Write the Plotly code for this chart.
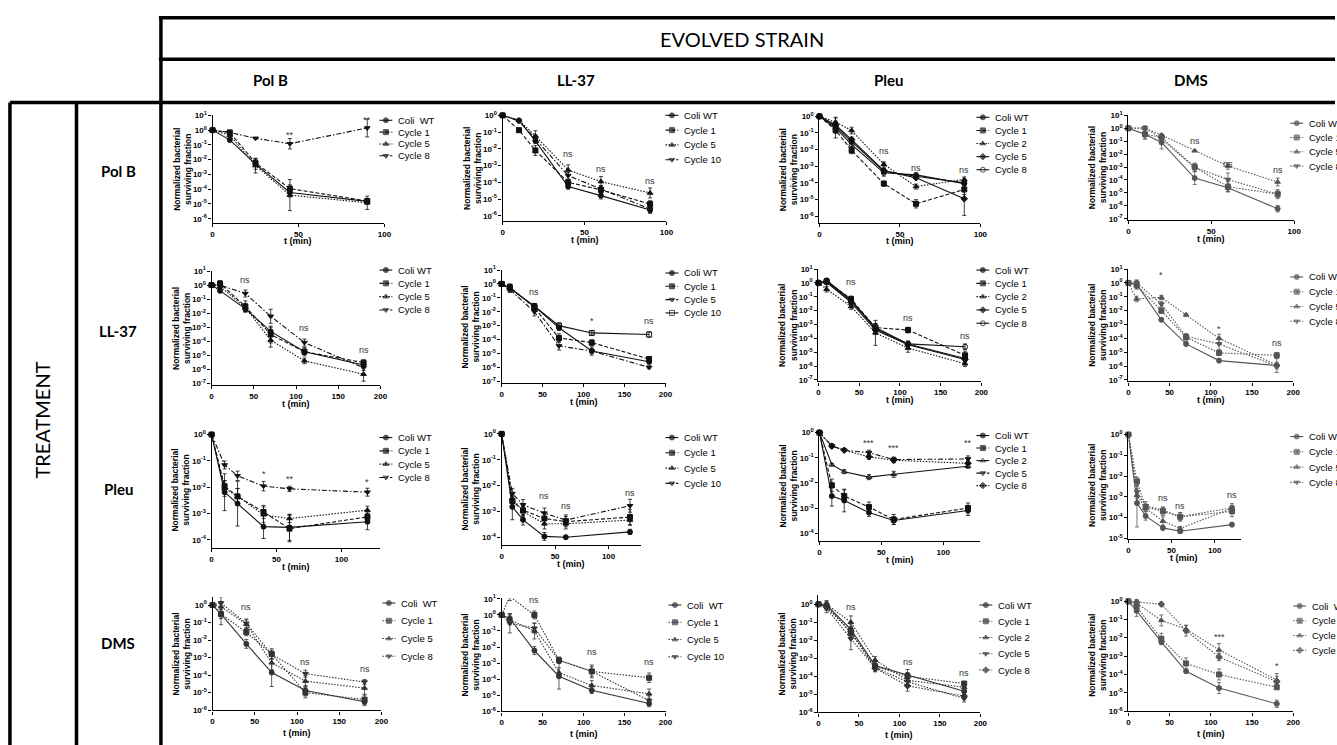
import plotly.graph_objects as go

W, H = 1337, 745

EVOLVED = ["Pol B", "LL-37", "Pleu", "DMS"]
TREATMENT = ["Pol B", "LL-37", "Pleu", "DMS"]
SUPER_TITLE = "EVOLVED STRAIN"
SIDE_TITLE = "TREATMENT"

# ================= DATA =================
# errors are log10 half-widths of the error bars
# --- Treatment Pol B ---
pb_pb_t = [0, 10, 25, 45, 90]
pb_pb_names = ["Coli  WT", "Cycle 1", "Cycle 5", "Cycle 8"]
pb_pb_wt = [1, 0.22, 0.005, 6e-5, 1.5e-5]
pb_pb_c1 = [1, 0.7, 0.006, 1.1e-4, 1.6e-5]
pb_pb_c5 = [1, 0.45, 0.004, 4e-5, 1.2e-5]
pb_pb_c8 = [1, 0.7, 0.28, 0.12, 1.4]
pb_pb_err = [[0, 0.15, 0.35, 0.3, 0.2], [0, 0.1, 0.25, 0.25, 0.15],
             [0, 0.2, 0.5, 1.05, 0.45], [0, 0.1, 0.05, 0.35, 0.6]]
pb_pb_sig_t = [45, 90]
pb_pb_sig_y = [-0.3, 0.72]
pb_pb_sig = ["**", "**"]

pb_ll_t = [0, 10, 20, 40, 60, 90]
pb_ll_names = ["Coli WT", "Cycle 1", "Cycle 5", "Cycle 10"]
pb_ll_wt = [1, 0.5, 0.03, 5.6e-5, 1.6e-5, 2.2e-6]
pb_ll_c1 = [1, 0.13, 0.008, 1e-4, 3.5e-5, 5e-6]
pb_ll_c5 = [1, 0.5, 0.06, 5.5e-4, 1.1e-4, 2.3e-5]
pb_ll_c10 = [1, 0.45, 0.04, 2.5e-4, 4e-5, 2.5e-6]
pb_ll_err = [[0, 0.1, 0.15, 0.15, 0.2, 0.2], [0, 0.1, 0.3, 0.15, 0.25, 0.2],
             [0, 0.1, 0.3, 0.3, 0.3, 0.3], [0, 0.1, 0.2, 0.2, 0.2, 0.2]]
pb_ll_sig_t = [40, 60, 90]
pb_ll_sig_y = [-2.3, -3.2, -3.9]
pb_ll_sig = ["ns", "ns", "ns"]

pb_pl_t = [0, 10, 20, 40, 60, 90]
pb_pl_names = ["Coli WT", "Cycle 1", "Cycle 2", "Cycle 5", "Cycle 8"]
pb_pl_wt = [1, 0.25, 0.03, 5e-4, 2.5e-4, 1e-4]
pb_pl_c1 = [1, 0.15, 0.009, 9e-5, 5.5e-6, 4e-5]
pb_pl_c2 = [1, 0.45, 0.14, 1.3e-3, 6e-5, 1.6e-4]
pb_pl_c5 = [1, 0.3, 0.04, 5.5e-4, 2e-4, 1.1e-5]
pb_pl_c8 = [1, 0.2, 0.02, 4e-4, 3e-4, 9e-5]
pb_pl_err = [[0, 0.15, 0.15, 0.15, 0.1, 0.1], [0, 0.2, 0.2, 0.15, 0.25, 0.3],
             [0, 0.3, 0.2, 0.15, 0.15, 0.15], [0, 0.15, 0.15, 0.15, 0.1, 1.0],
             [0, 0.6, 0.2, 0.2, 0.1, 0.15]]
pb_pl_sig_t = [40, 60, 90]
pb_pl_sig_y = [-2.06, -3.08, -3.2]
pb_pl_sig = ["ns", "ns", "ns"]

pb_dm_t = [0, 10, 20, 40, 60, 90]
pb_dm_names = ["Coli WT", "Cycle 1", "Cycle 5", "Cycle 8"]
pb_dm_wt = [1, 0.35, 0.08, 1.4e-4, 2.5e-5, 6e-7]
pb_dm_c1 = [1, 0.35, 0.2, 1e-3, 3e-5, 8e-6]
pb_dm_c5 = [1, 1.0, 0.3, 1.8e-2, 1.2e-3, 7e-5]
pb_dm_c8 = [1, 1.1, 0.15, 9e-4, 1.1e-4, 8e-6]
pb_dm_err = [[0, 0.3, 0.5, 0.5, 0.3, 0.25], [0, 0.4, 0.2, 0.3, 0.4, 0.25],
             [0, 0.1, 0.1, 0.05, 0.25, 0.3], [0, 0.15, 0.3, 0.3, 0.5, 0.35]]
pb_dm_sig_t = [40, 60, 90]
pb_dm_sig_y = [-0.96, -2.8, -3.26]
pb_dm_sig = ["ns", "ns", "ns"]

# --- Treatment LL-37 ---
ll_pb_t = [0, 10, 40, 70, 110, 180]
ll_pb_names = ["Coli WT", "Cycle 1", "Cycle 5", "Cycle 8"]
ll_pb_wt = [1, 0.4, 0.02, 5e-4, 1.8e-5, 2e-6]
ll_pb_c1 = [1, 1.3, 0.03, 3e-4, 1.8e-5, 3e-6]
ll_pb_c5 = [1, 0.8, 0.025, 1.2e-4, 4e-6, 4.5e-7]
ll_pb_c8 = [1, 1.0, 0.25, 6e-3, 8e-5, 1.3e-6]
ll_pb_err = [[0, 0.15, 0.2, 0.3, 0.2, 0.2], [0, 0.2, 0.4, 0.6, 0.3, 0.2],
             [0, 0.2, 0.3, 0.5, 0.2, 0.5], [0, 0.2, 0.25, 0.5, 0.25, 0.2]]
ll_pb_sig_t = [40, 110, 180]
ll_pb_sig_y = [0.35, -3.05, -4.6]
ll_pb_sig = ["ns", "ns", "ns"]

ll_ll_t = [0, 10, 40, 70, 110, 180]
ll_ll_names = ["Coli WT", "Cycle 1", "Cycle 5", "Cycle 10"]
ll_ll_wt = [1, 0.5, 0.025, 7e-4, 1.5e-5, 2.5e-6]
ll_ll_c1 = [1, 0.6, 0.02, 1.3e-4, 6e-5, 4e-6]
ll_ll_c5 = [1, 0.4, 0.01, 3.5e-5, 1.5e-5, 1e-6]
ll_ll_c10 = [1, 0.5, 0.025, 1e-3, 3e-4, 2.3e-4]
ll_ll_err = [[0, 0.3, 0.2, 0.2, 0.2, 0.15], [0, 0.2, 0.2, 0.3, 0.2, 0.15],
             [0, 0.2, 0.3, 0.3, 0.3, 0.1], [0, 0.2, 0.2, 0.2, 0.15, 0.2]]
ll_ll_sig_t = [40, 110, 180]
ll_ll_sig_y = [-0.55, -2.7, -2.7]
ll_ll_sig = ["ns", "*", "ns"]

ll_pl_t = [0, 10, 40, 70, 110, 180]
ll_pl_names = ["Coli WT", "Cycle 1", "Cycle 2", "Cycle 5", "Cycle 8"]
ll_pl_wt = [1, 1.5, 0.06, 5e-4, 4e-5, 3.5e-6]
ll_pl_c1 = [1, 1.3, 0.07, 6e-4, 4e-4, 6e-6]
ll_pl_c2 = [1, 0.35, 0.02, 2.5e-4, 2e-5, 1.5e-6]
ll_pl_c5 = [1, 1.1, 0.04, 4e-4, 3.5e-5, 3e-6]
ll_pl_c8 = [1, 1.2, 0.05, 6e-4, 4e-5, 2.5e-5]
ll_pl_err = [[0, 0.15, 0.2, 0.3, 0.2, 0.2], [0, 0.15, 0.2, 0.3, 0.2, 0.3],
             [0, 0.2, 0.2, 0.9, 0.3, 0.2], [0, 0.15, 0.2, 0.3, 0.2, 0.2],
             [0, 0.15, 0.2, 0.3, 0.2, 0.2]]
ll_pl_sig_t = [40, 110, 180]
ll_pl_sig_y = [0.1, -2.5, -3.8]
ll_pl_sig = ["ns", "ns", "ns"]

ll_dm_t = [0, 10, 40, 70, 110, 180]
ll_dm_names = ["Coli WT", "Cycle 1", "Cycle 5", "Cycle 8"]
ll_dm_wt = [1, 0.8, 2.2e-3, 4e-5, 2.5e-6, 1.1e-6]
ll_dm_c1 = [1, 0.7, 1e-2, 1.2e-4, 9e-6, 6e-6]
ll_dm_c5 = [1, 0.07, 0.09, 5e-3, 1e-4, 1.2e-6]
ll_dm_c8 = [1, 1.0, 0.03, 1.4e-4, 4e-5, 1e-6]
ll_dm_err = [[0, 0.3, 0.1, 0.15, 0.15, 0.5], [0, 0.3, 0.2, 0.2, 0.15, 0.2],
             [0, 0.2, 0.15, 0.1, 0.3, 0.2], [0, 0.2, 0.2, 0.2, 0.4, 0.2]]
ll_dm_sig_t = [40, 110, 180]
ll_dm_sig_y = [0.6, -3.3, -4.3]
ll_dm_sig = ["*", "*", "ns"]

# --- Treatment Pleu ---
pl_pb_t = [0, 10, 20, 40, 60, 120]
pl_pb_names = ["Coli WT", "Cycle 1", "Cycle 5", "Cycle 8"]
pl_pb_wt = [1, 6.5e-3, 2.4e-3, 3.2e-4, 3e-4, 4.9e-4]
pl_pb_c1 = [1, 0.011, 4.5e-3, 1.15e-3, 2.7e-4, 7.5e-4]
pl_pb_c5 = [1, 9e-3, 4.5e-3, 9e-4, 6.5e-4, 1.35e-3]
pl_pb_c8 = [1, 0.07, 0.027, 0.011, 8.7e-3, 6.5e-3]
pl_pb_err = [[0, 0.7, 0.85, 0.45, 0.5, 0.3], [0, 0.2, 0.3, 0.25, 0.5, 0.15],
             [0, 0.3, 0.3, 0.3, 0.15, 0.15], [0, 0.15, 0.18, 0.18, 0.1, 0.15]]
pl_pb_sig_t = [40, 60, 120]
pl_pb_sig_y = [-1.5, -1.69, -1.81]
pl_pb_sig = ["*", "**", "*"]

pl_ll_t = [0, 10, 20, 40, 60, 120]
pl_ll_names = ["Coli WT", "Cycle 1", "Cycle 5", "Cycle 10"]
pl_ll_wt = [1, 1.5e-3, 4.7e-4, 1.07e-4, 1e-4, 1.6e-4]
pl_ll_c1 = [1, 2.5e-3, 1.1e-3, 5.3e-4, 4e-4, 6e-4]
pl_ll_c5 = [1, 3.2e-3, 9.8e-4, 3.3e-4, 3.3e-4, 4.6e-4]
pl_ll_c10 = [1, 4.9e-3, 1.8e-3, 8.5e-4, 4.6e-4, 1.65e-3]
pl_ll_err = [[0, 0.5, 0.2, 0.15, 0.05, 0.1], [0, 0.2, 0.2, 0.25, 0.2, 0.3],
             [0, 0.2, 0.2, 0.2, 0.2, 0.2], [0, 0.2, 0.2, 0.2, 0.2, 0.25]]
pl_ll_sig_t = [40, 60, 120]
pl_ll_sig_y = [-2.4, -2.78, -2.3]
pl_ll_sig = ["ns", "ns", "ns"]

pl_pl_t = [0, 10, 20, 40, 60, 120]
pl_pl_names = ["Coli WT", "Cycle 1", "Cycle 2", "Cycle 5", "Cycle 8"]
pl_pl_wt = [1, 3e-3, 2e-3, 6.6e-4, 3.2e-4, 8e-4]
pl_pl_c1 = [1, 8e-3, 3e-3, 1.1e-3, 3.5e-4, 1e-3]
pl_pl_c2 = [1, 0.053, 0.028, 0.017, 0.022, 0.046]
pl_pl_c5 = [1, 0.3, 0.2, 0.16, 0.085, 0.09]
pl_pl_c8 = [1, 0.29, 0.2, 0.11, 0.08, 0.06]
pl_pl_err = [[0, 0.4, 0.45, 0.15, 0.15, 0.2], [0, 0.25, 0.25, 0.2, 0.2, 0.2],
             [0, 0.05, 0.08, 0.1, 0.12, 0.08], [0, 0.08, 0.05, 0.1, 0.1, 0.12],
             [0, 0.05, 0.05, 0.1, 0.1, 0.1]]
pl_pl_sig_t = [40, 60, 120]
pl_pl_sig_y = [-0.4, -0.62, -0.43]
pl_pl_sig = ["***", "***", "**"]

pl_dm_t = [0, 10, 20, 40, 60, 120]
pl_dm_names = ["Coli WT", "Cycle 1", "Cycle 5", "Cycle 8"]
pl_dm_wt = [1, 5e-4, 1.2e-4, 3.2e-5, 2.2e-5, 4.6e-5]
pl_dm_c1 = [1, 5.5e-3, 3.2e-4, 2e-4, 1.1e-4, 2e-4]
pl_dm_c5 = [1, 1.2e-3, 2.8e-4, 6.8e-5, 3e-5, 2.8e-4]
pl_dm_c8 = [1, 1.7e-3, 3.7e-4, 2.3e-4, 1.1e-4, 3e-4]
pl_dm_err = [[0, 1.15, 0.2, 0.1, 0.1, 0.1], [0, 0.2, 0.15, 0.2, 0.2, 0.25],
             [0, 0.3, 0.15, 0.2, 0.1, 0.15], [0, 0.3, 0.2, 0.15, 0.2, 0.2]]
pl_dm_sig_t = [40, 60, 120]
pl_dm_sig_y = [-3.07, -3.45, -2.9]
pl_dm_sig = ["ns", "ns", "ns"]

# --- Treatment DMS ---
dm_pb_t = [0, 10, 40, 70, 110, 180]
dm_pb_names = ["Coli  WT", "Cycle 1", "Cycle 5", "Cycle 8"]
dm_pb_wt = [1, 0.3, 6e-3, 1.4e-4, 1.3e-5, 3e-6]
dm_pb_c1 = [1, 0.3, 0.028, 1.6e-3, 1e-5, 4e-6]
dm_pb_c5 = [1, 0.8, 0.08, 5e-4, 4.5e-5, 1.8e-5]
dm_pb_c8 = [1, 1.3, 0.09, 1.5e-3, 1.2e-4, 4e-5]
dm_pb_err = [[0, 0.25, 0.25, 0.8, 0.3, 0.2], [0, 0.6, 0.2, 0.3, 0.3, 0.3],
             [0, 0.3, 0.25, 0.4, 0.3, 0.4], [0, 0.35, 0.25, 0.25, 0.2, 0.15]]
dm_pb_sig_t = [40, 110, 180]
dm_pb_sig_y = [-0.1, -3.23, -3.64]
dm_pb_sig = ["ns", "ns", "ns"]

dm_ll_t = [0, 10, 40, 70, 110, 180]
dm_ll_names = ["Coli  WT", "Cycle 1", "Cycle 5", "Cycle 10"]
dm_ll_wt = [1, 0.6, 6e-3, 1.5e-4, 2e-5, 3e-6]
dm_ll_c1 = [1, 14, 1.0, 1.5e-3, 3e-4, 1.2e-4]
dm_ll_c5 = [1, 0.5, 0.1, 2.5e-4, 4e-5, 1.2e-5]
dm_ll_c10 = [1, 0.3, 0.15, 1.5e-3, 3e-4, 4.5e-6]
dm_ll_err = [[0, 0.3, 0.25, 0.8, 0.2, 0.2], [0, 0.25, 0.25, 0.15, 0.4, 0.3],
             [0, 0.3, 0.5, 0.3, 0.3, 0.3], [0, 0.6, 0.3, 0.2, 0.3, 0.3]]
dm_ll_sig_t = [40, 110, 180]
dm_ll_sig_y = [0.94, -2.3, -2.93]
dm_ll_sig = ["ns", "ns", "ns"]

dm_pl_t = [0, 10, 40, 70, 110, 180]
dm_pl_names = ["Coli WT", "Cycle 1", "Cycle 2", "Cycle 5", "Cycle 8"]
dm_pl_wt = [1, 0.9, 0.04, 4e-4, 1.2e-4, 1.5e-5]
dm_pl_c1 = [1, 0.8, 0.025, 3.5e-4, 1e-4, 4e-5]
dm_pl_c2 = [1, 1.0, 0.1, 8e-4, 6e-5, 2.5e-5]
dm_pl_c5 = [1, 0.6, 0.012, 3e-4, 5e-5, 6e-6]
dm_pl_c8 = [1, 0.7, 0.03, 2.8e-4, 3e-5, 8e-6]
dm_pl_err = [[0, 0.2, 0.3, 0.2, 0.3, 0.15], [0, 0.2, 0.3, 0.2, 0.2, 0.1],
             [0, 0.2, 0.35, 0.2, 0.3, 0.2], [0, 0.25, 0.6, 0.2, 0.2, 0.2],
             [0, 0.2, 0.3, 0.2, 0.3, 0.2]]
dm_pl_sig_t = [40, 110, 180]
dm_pl_sig_y = [-0.15, -3.2, -3.84]
dm_pl_sig = ["ns", "ns", "ns"]

dm_dm_t = [0, 10, 40, 70, 110, 180]
dm_dm_names = ["Coli  WT", "Cycle 1", "Cycle 5", "Cycle 8"]
dm_dm_wt = [1, 0.3, 6e-3, 1.5e-4, 1.8e-5, 2.5e-6]
dm_dm_c1 = [1, 0.5, 9e-3, 4e-4, 1e-4, 2e-5]
dm_dm_c5 = [1, 0.8, 0.09, 0.03, 2.2e-3, 5e-5]
dm_dm_c8 = [1, 0.9, 0.7, 0.025, 9e-4, 4e-5]
dm_dm_err = [[0, 0.3, 0.15, 0.1, 0.3, 0.2], [0, 0.3, 0.3, 0.3, 0.3, 0.1],
             [0, 0.2, 0.3, 0.2, 0.35, 0.35], [0, 0.2, 0.1, 0.3, 0.2, 0.3]]
dm_dm_sig_t = [40, 110, 180]
dm_dm_sig_y = [0.23, -1.97, -3.53]
dm_dm_sig = ["**", "***", "*"]

# ================= STYLES =================
BLACK, DARK, GREY = "#111111", "#333333", "#555555"
DASH = {"solid": "solid", "dash": "4px,2px", "dot": "1.5px,1.5px", "dashdot": "5px,2px,1.5px,2px"}
ST_4 = (["circle", "square", "triangle-up", "triangle-down"], ["solid", "dash", "dot", "dashdot"])
ST_LL2 = (["circle", "square", "triangle-down", "square-open"], ["solid", "dash", "dashdot", "solid"])
ST_PL = (["circle", "square", "triangle-up", "diamond", "circle-open"], ["solid", "dash", "dot", "solid", "solid"])
ST_PL3 = (["circle", "square", "triangle-up-open", "triangle-down", "diamond"], ["solid", "dash", "solid", "dashdot", "dot"])
ST_GREY4 = (["circle", "square", "triangle-up", "triangle-down"], ["solid", "dot", "dot", "dot"])
ST_GREY4D = (["circle", "square", "triangle-up", "diamond"], ["solid", "dot", "dot", "dot"])
ST_GREY5 = (["circle", "square", "triangle-up", "triangle-down", "diamond"], ["solid", "dot", "dot", "dot", "dot"])

# legend line start per column (page px)
LEGX = [380, 668, 981, 1297]

# panel geometry in page pixels: x of t=0, x of axis end, axis max, y top px, y bottom px, log range
# legend: y of first entry, spacing
P = [
    # row Pol B
    dict(t=pb_pb_t, names=pb_pb_names, ys=[pb_pb_wt, pb_pb_c1, pb_pb_c5, pb_pb_c8], err=pb_pb_err,
         st=ST_4, col=BLACK, sig=(pb_pb_sig_t, pb_pb_sig_y, pb_pb_sig),
         g=(212, 385, 100, 111, 220, -6.27, 1.0), lg=(116, 12)),
    dict(t=pb_ll_t, names=pb_ll_names, ys=[pb_ll_wt, pb_ll_c1, pb_ll_c5, pb_ll_c10], err=pb_ll_err,
         st=ST_4, col=BLACK, sig=(pb_ll_sig_t, pb_ll_sig_y, pb_ll_sig),
         g=(504, 669, 100, 111, 218, -6.3, 0.0), lg=(111, 15)),
    dict(t=pb_pl_t, names=pb_pl_names, ys=[pb_pl_wt, pb_pl_c1, pb_pl_c2, pb_pl_c5, pb_pl_c8], err=pb_pl_err,
         st=ST_PL, col=BLACK, sig=(pb_pl_sig_t, pb_pl_sig_y, pb_pl_sig),
         g=(823, 985, 100, 112, 220, -6.4, 0.0), lg=(113, 13.3)),
    dict(t=pb_dm_t, names=pb_dm_names, ys=[pb_dm_wt, pb_dm_c1, pb_dm_c5, pb_dm_c8], err=pb_dm_err,
         st=ST_GREY4, col=GREY, sig=(pb_dm_sig_t, pb_dm_sig_y, pb_dm_sig),
         g=(1134, 1301, 100, 111, 217, -7.08, 1.0), lg=(119, 14.5)),
    # row LL-37
    dict(t=ll_pb_t, names=ll_pb_names, ys=[ll_pb_wt, ll_pb_c1, ll_pb_c5, ll_pb_c8], err=ll_pb_err,
         st=ST_4, col=BLACK, sig=(ll_pb_sig_t, ll_pb_sig_y, ll_pb_sig),
         g=(211, 381, 200, 269, 385, -7.14, 1.0), lg=(268, 13.5)),
    dict(t=ll_ll_t, names=ll_ll_names, ys=[ll_ll_wt, ll_ll_c1, ll_ll_c5, ll_ll_c10], err=ll_ll_err,
         st=ST_LL2, col=BLACK, sig=(ll_ll_sig_t, ll_ll_sig_y, ll_ll_sig),
         g=(503, 668, 200, 268, 383, -7.15, 1.0), lg=(271, 13.5)),
    dict(t=ll_pl_t, names=ll_pl_names, ys=[ll_pl_wt, ll_pl_c1, ll_pl_c2, ll_pl_c5, ll_pl_c8], err=ll_pl_err,
         st=ST_PL, col=BLACK, sig=(ll_pl_sig_t, ll_pl_sig_y, ll_pl_sig),
         g=(822, 986, 200, 267, 381, -7.1, 1.0), lg=(268, 13.5)),
    dict(t=ll_dm_t, names=ll_dm_names, ys=[ll_dm_wt, ll_dm_c1, ll_dm_c5, ll_dm_c8], err=ll_dm_err,
         st=ST_GREY4, col=GREY, sig=(ll_dm_sig_t, ll_dm_sig_y, ll_dm_sig),
         g=(1134, 1300, 200, 267, 381, -7.1, 1.0), lg=(275, 15)),
    # row Pleu
    dict(t=pl_pb_t, names=pl_pb_names, ys=[pl_pb_wt, pl_pb_c1, pl_pb_c5, pl_pb_c8], err=pl_pb_err,
         st=ST_4, col=BLACK, sig=(pl_pb_sig_t, pl_pb_sig_y, pl_pb_sig),
         g=(211, 381, 130, 432, 550, -4.3, 0.11), lg=(438, 13.5)),
    dict(t=pl_ll_t, names=pl_ll_names, ys=[pl_ll_wt, pl_ll_c1, pl_ll_c5, pl_ll_c10], err=pl_ll_err,
         st=ST_4, col=BLACK, sig=(pl_ll_sig_t, pl_ll_sig_y, pl_ll_sig),
         g=(503, 643, 130, 433, 547, -4.3, 0.05), lg=(438, 15.5)),
    dict(t=pl_pl_t, names=pl_pl_names, ys=[pl_pl_wt, pl_pl_c1, pl_pl_c2, pl_pl_c5, pl_pl_c8], err=pl_pl_err,
         st=ST_PL3, col=BLACK, sig=(pl_pl_sig_t, pl_pl_sig_y, pl_pl_sig),
         g=(823, 985, 130, 431, 543, -4.31, 0.08), lg=(436, 12.7)),
    dict(t=pl_dm_t, names=pl_dm_names, ys=[pl_dm_wt, pl_dm_c1, pl_dm_c5, pl_dm_c8], err=pl_dm_err,
         st=ST_GREY4, col=GREY, sig=(pl_dm_sig_t, pl_dm_sig_y, pl_dm_sig),
         g=(1134, 1247, 130, 432, 541, -5.03, 0.14), lg=(437, 15.5)),
    # row DMS
    dict(t=dm_pb_t, names=dm_pb_names, ys=[dm_pb_wt, dm_pb_c1, dm_pb_c5, dm_pb_c8], err=dm_pb_err,
         st=ST_GREY4, col=DARK, sig=(dm_pb_sig_t, dm_pb_sig_y, dm_pb_sig),
         g=(212, 382, 200, 600, 715, -6.02, 0.45), lg=(606, 18)),
    dict(t=dm_ll_t, names=dm_ll_names, ys=[dm_ll_wt, dm_ll_c1, dm_ll_c5, dm_ll_c10], err=dm_ll_err,
         st=ST_GREY4, col=DARK, sig=(dm_ll_sig_t, dm_ll_sig_y, dm_ll_sig),
         g=(503, 668, 200, 601, 716, -6.02, 1.05), lg=(608, 17.5)),
    dict(t=dm_pl_t, names=dm_pl_names, ys=[dm_pl_wt, dm_pl_c1, dm_pl_c2, dm_pl_c5, dm_pl_c8], err=dm_pl_err,
         st=ST_GREY5, col=DARK, sig=(dm_pl_sig_t, dm_pl_sig_y, dm_pl_sig),
         g=(822, 985, 200, 598, 717, -6.0, 0.5), lg=(608, 16.5)),
    dict(t=dm_dm_t, names=dm_dm_names, ys=[dm_dm_wt, dm_dm_c1, dm_dm_c5, dm_dm_c8], err=dm_dm_err,
         st=ST_GREY4D, col=GREY, sig=(dm_dm_sig_t, dm_dm_sig_y, dm_dm_sig),
         g=(1134, 1300, 200, 602, 716, -6.02, 0.12), lg=(609, 15)),
]

FONT = "Liberation Sans, Arial, sans-serif"
HFONT = "Lato, Open Sans, sans-serif"


def px(x):
    return x / W


def py(y):
    return 1 - y / H


fig = go.Figure()
annotations = []
shapes = []
layout = {}
LEG = 17  # overlay axis index for legends


def note(x, y, text, size, **kw):
    d = dict(x=px(x), y=py(y), xref="paper", yref="paper", text=text, showarrow=False,
             xanchor="center", yanchor="middle",
             font=dict(family=kw.pop("family", FONT), size=size, color="black",
                       weight=kw.pop("weight", "normal")))
    d.update(kw)
    annotations.append(d)


for k, p in enumerate(P, start=1):
    xl, xr, xmax, yt, yb, ymin, ymax = p["g"]
    row = (k - 1) // 4
    colidx = (k - 1) % 4
    xa = "x" if k == 1 else f"x{k}"
    ya = "y" if k == 1 else f"y{k}"
    xkey = "xaxis" if k == 1 else f"xaxis{k}"
    ykey = "yaxis" if k == 1 else f"yaxis{k}"
    syms, dashes = p["st"]
    col = p["col"]
    for i, (yv, ev) in enumerate(zip(p["ys"], p["err"])):
        plus = [v * (10 ** e - 1) for v, e in zip(yv, ev)]
        minus = [v * (1 - 10 ** (-e)) for v, e in zip(yv, ev)]
        fig.add_trace(go.Scatter(
            x=p["t"], y=yv, xaxis=xa, yaxis=ya, mode="lines+markers",
            name=p["names"][i], showlegend=False, cliponaxis=False,
            line=dict(color=col, width=1.1, dash=DASH[dashes[i]]),
            marker=dict(symbol=syms[i], size=5, color=col, line=dict(width=1, color=col)),
            error_y=dict(type="data", array=plus, arrayminus=minus, color=col,
                         thickness=0.8, width=2),
        ))
    dec = list(range(int(-(-ymin // 1)), int(ymax // 1) + 1))
    layout[xkey] = dict(
        domain=[px(xl), px(xr)], range=[0, xmax], anchor=ya,
        tickvals=[v for v in (0, 50, 100, 150, 200) if v <= xmax],
        showline=True, linecolor="black", linewidth=1.3, ticks="outside",
        ticklen=3, tickwidth=1, tickcolor="black", showgrid=False, zeroline=False,
        tickfont=dict(family=FONT, size=8, color="black", weight="bold"), fixedrange=True,
    )
    layout[ykey] = dict(
        domain=[py(yb), py(yt)], type="log", range=[ymin, ymax], anchor=xa,
        tickvals=[10 ** d for d in dec],
        ticktext=["10<sup>%d</sup>" % d for d in dec],
        showline=True, linecolor="black", linewidth=1.3, ticks="outside",
        ticklen=3, tickwidth=1, tickcolor="black", showgrid=False, zeroline=False,
        tickfont=dict(family=FONT, size=8, color="black", weight="bold"), fixedrange=True,
    )
    # axis titles
    note(xl - 31, (yt + yb) / 2, "Normalized bacterial<br>surviving fraction", 8.5,
         weight="bold", textangle=-90)
    note((xl + xr) / 2, yb + (23 if row == 3 else 19), "t (min)", 9, weight="bold")
    # significance marks
    st_, sy_, stx_ = p["sig"]
    for tx, yy, txt in zip(st_, sy_, stx_):
        annotations.append(dict(
            x=tx, y=yy, xref=xa, yref=ya, text=txt, showarrow=False,
            font=dict(family=FONT, size=9, color="#333333"),
            xanchor="center", yanchor="middle"))
    # legend (drawn on overlay axis in page pixel units)
    ly0, dy = p["lg"]
    lx = LEGX[colidx] + (3 if row == 3 else 0)
    for i, name in enumerate(p["names"]):
        ly = ly0 + i * dy
        fig.add_trace(go.Scatter(
            x=[lx, lx + 6.5, lx + 13], y=[ly, ly, ly], xaxis=f"x{LEG}", yaxis=f"y{LEG}",
            mode="lines+markers", showlegend=False, hoverinfo="skip", cliponaxis=False,
            line=dict(color=col, width=1.1, dash=DASH[dashes[i]]),
            marker=dict(symbol=syms[i], size=[0, 5, 0], color=col, line=dict(width=1, color=col)),
        ))
        note(lx + 17, ly, name, 9.5, xanchor="left")

layout[f"xaxis{LEG}"] = dict(domain=[0, 1], range=[0, W], visible=False, fixedrange=True)
layout[f"yaxis{LEG}"] = dict(domain=[0, 1], range=[H, 0], visible=False, fixedrange=True)

# table frame
LW = 3.5
for (x0, y0, x1, y1) in [(158, 12, W + 5, 12), (158, 54, W + 5, 54), (8, 98, W + 5, 98),
                         (160, 12, 160, H + 5), (75, 98, 75, H + 5), (8, 98, 8, H + 5)]:
    shapes.append(dict(type="line", xref="paper", yref="paper",
                       x0=px(x0), y0=py(y0), x1=px(x1), y1=py(y1),
                       line=dict(color="black", width=LW)))

# headers
note(745, 33, SUPER_TITLE, 20, family=HFONT)
for name, cx in zip(EVOLVED, [270, 578, 893, 1197]):
    note(cx, 75, name, 15, family=HFONT, weight="bold")
for name, cy in zip(TREATMENT, [167, 330, 490, 647]):
    note(117, cy, name, 15, family=HFONT, weight="bold")
note(40, 420, SIDE_TITLE, 20, family=HFONT, textangle=-90)

fig.update_layout(
    width=W, height=H, margin=dict(l=0, r=0, t=0, b=0),
    paper_bgcolor="white", plot_bgcolor="rgba(0,0,0,0)", showlegend=False,
    annotations=annotations, shapes=shapes, **layout,
)
fig.write_html("out.html", config={"displayModeBar": False},
               post_script="document.body.style.margin='0';document.body.style.overflow='hidden';")
